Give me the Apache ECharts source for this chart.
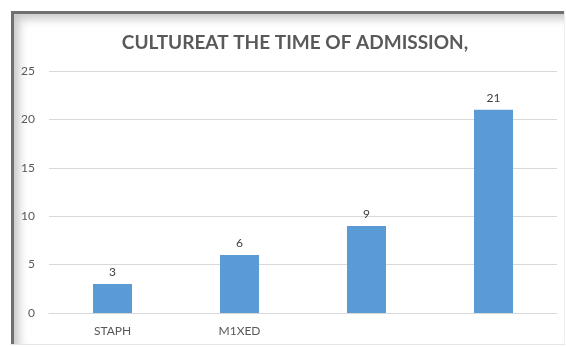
<!DOCTYPE html>
<html><head><meta charset="utf-8">
<script src="https://cdn.jsdelivr.net/npm/echarts@6/dist/echarts.min.js"></script>
<style>
html,body{margin:0;padding:0;background:#fff;}
#wrap{position:relative;width:566px;height:347px;overflow:hidden;}
#frame{position:absolute;left:11px;top:11px;width:553px;height:333px;border-right:1px solid #eee;border-bottom:1px solid #e6e6e6;box-shadow:inset 3px 3px 0 #707070, inset 8px 8px 10px rgba(0,0,0,0.22);}
#chart{position:absolute;left:0;top:0;width:566px;height:347px;}
</style></head>
<body><div id="wrap"><div id="frame"></div><div id="chart"></div></div>
<script>
const titleText = 'CULTUREAT THE TIME OF ADMISSION,';
const categories = ['STAPH', 'M1XED', '', ''];
const values = [3, 6, 9, 21];
const yTicks = [0, 5, 10, 15, 20, 25];

const chart = echarts.init(document.getElementById('chart'), null, {renderer: 'canvas'});
chart.setOption({
  animation: false,
  title: {
    text: titleText, left: 290, textAlign: 'center', top: 28,
    textStyle: {fontFamily: 'Lato', fontWeight: 'bold', fontSize: 19, color: '#595959'}
  },
  grid: {left: 49, right: 9, top: 71, bottom: 34, containLabel: false},
  xAxis: {
    type: 'category', data: categories,
    axisLine: {show: true, lineStyle: {color: '#d9d9d9'}},
    axisTick: {show: false},
    axisLabel: {color: '#595959', fontSize: 12, margin: 12, fontFamily: 'Lato'}
  },
  yAxis: {
    type: 'value', min: yTicks[0], max: yTicks[yTicks.length - 1], interval: 5,
    axisLine: {show: false}, axisTick: {show: false},
    axisLabel: {color: '#595959', fontSize: 12, margin: 14, fontFamily: 'Lato'},
    splitLine: {lineStyle: {color: '#d9d9d9'}}
  },
  series: [{
    type: 'bar', data: values, barWidth: 39,
    itemStyle: {color: '#5b9bd5'},
    label: {show: true, position: 'top', distance: 6, color: '#404040', fontSize: 12, fontFamily: 'Lato'}
  }]
});
</script></body></html>
